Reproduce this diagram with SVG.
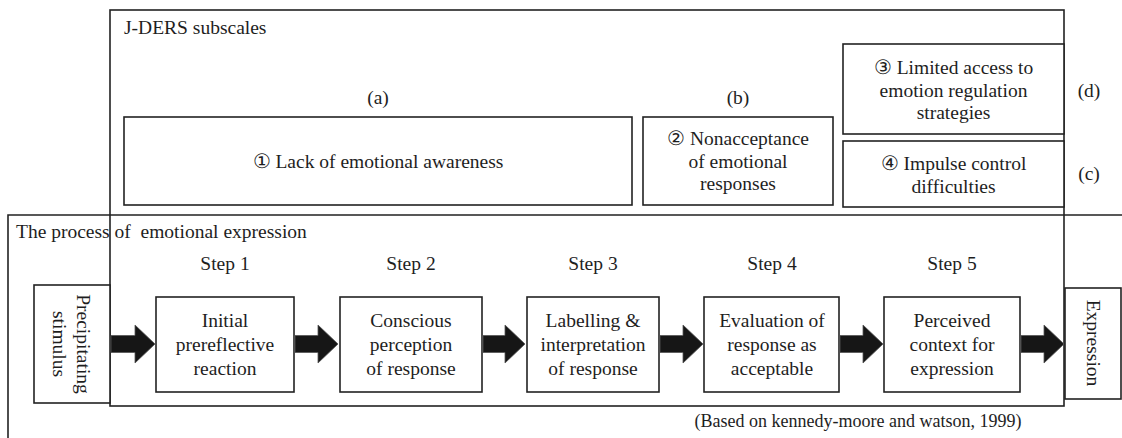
<svg xmlns="http://www.w3.org/2000/svg" width="1122" height="438" viewBox="0 0 1122 438">
<style>
text{font-family:"Liberation Serif","Times New Roman",serif;font-size:19.5px;fill:#1e1e1e;}
.c{text-anchor:middle;}
.small{font-size:18px;}
.box{fill:#fff;stroke:#222;stroke-width:1.6;}
.frame{fill:none;stroke:#222;stroke-width:1.6;}
.arr{fill:#161616;stroke:#555;stroke-width:0.8;}
</style>
<rect width="1122" height="438" fill="#fff"/>

<g id="process-frame">
<path class="frame" d="M1122,215 H8 V438"/>
<text x="16" y="238" style="white-space:pre">The process of  emotional expression</text>
</g>

<g id="jders">
<rect class="frame" x="110" y="10" width="954" height="396"/>
<text x="124" y="34">J-DERS subscales</text>
</g>

<g id="sub-a">
<text class="c" x="378" y="104">(a)</text>
<rect class="box" x="124" y="117" width="508" height="88"/>
<text class="c" x="378" y="168">① Lack of emotional awareness</text>
</g>

<g id="sub-b">
<text class="c" x="738" y="104">(b)</text>
<rect class="box" x="643" y="117" width="190" height="88"/>
<text class="c" x="738" y="145">② Nonacceptance</text>
<text class="c" x="738" y="168">of emotional</text>
<text class="c" x="738" y="190">responses</text>
</g>

<g id="sub-d">
<rect class="box" x="843" y="44" width="221" height="90"/>
<text class="c" x="953.5" y="74">③ Limited access to</text>
<text class="c" x="953.5" y="96.5">emotion regulation</text>
<text class="c" x="953.5" y="119">strategies</text>
<text class="c" x="1089" y="97">(d)</text>
</g>

<g id="sub-c">
<rect class="box" x="843" y="141" width="221" height="66"/>
<text class="c" x="953.5" y="170">④ Impulse control</text>
<text class="c" x="953.5" y="193">difficulties</text>
<text class="c" x="1089" y="180">(c)</text>
</g>

<g id="stimulus">
<rect class="box" x="34" y="285" width="76" height="118"/>
<g transform="translate(71,344) rotate(90)">
<text class="c" x="0" y="-5.5">Precipitating</text>
<text class="c" x="0" y="18.5">stimulus</text>
</g>
</g>

<g id="step1">
<text class="c" x="225" y="270">Step 1</text>
<rect class="box" x="156" y="297" width="138" height="95"/>
<text class="c" x="225" y="327">Initial</text>
<text class="c" x="225" y="351">prereflective</text>
<text class="c" x="225" y="375">reaction</text>
</g>

<g id="step2">
<text class="c" x="411" y="270">Step 2</text>
<rect class="box" x="340" y="297" width="142" height="95"/>
<text class="c" x="411" y="327">Conscious</text>
<text class="c" x="411" y="351">perception</text>
<text class="c" x="411" y="375">of response</text>
</g>

<g id="step3">
<text class="c" x="593" y="270">Step 3</text>
<rect class="box" x="527" y="297" width="132" height="95"/>
<text class="c" x="593" y="327">Labelling &amp;</text>
<text class="c" x="593" y="351">interpretation</text>
<text class="c" x="593" y="375">of response</text>
</g>

<g id="step4">
<text class="c" x="772" y="270">Step 4</text>
<rect class="box" x="704" y="297" width="135" height="95"/>
<text class="c" x="772" y="327">Evaluation of</text>
<text class="c" x="772" y="351">response as</text>
<text class="c" x="772" y="375">acceptable</text>
</g>

<g id="step5">
<text class="c" x="952" y="270">Step 5</text>
<rect class="box" x="884" y="297" width="136" height="95"/>
<text class="c" x="952" y="327">Perceived</text>
<text class="c" x="952" y="351">context for</text>
<text class="c" x="952" y="375">expression</text>
</g>

<g id="expression">
<rect class="box" x="1065" y="288" width="56" height="111"/>
<g transform="translate(1093,343) rotate(90)">
<text class="c" x="0" y="6.5">Expression</text>
</g>
</g>

<g id="connectors">
<path class="arr" d="M111,335.5 H135 V325 L155,344 L135,363 V352.5 H111 Z"/>
<path class="arr" d="M295,335.5 H318 V325 L338,344 L318,363 V352.5 H295 Z"/>
<path class="arr" d="M483,335.5 H505 V325 L525,344 L505,363 V352.5 H483 Z"/>
<path class="arr" d="M660,335.5 H683 V325 L703,344 L683,363 V352.5 H660 Z"/>
<path class="arr" d="M840,335.5 H863 V325 L883,344 L863,363 V352.5 H840 Z"/>
<path class="arr" d="M1021,335.5 H1044 V325 L1064,344 L1044,363 V352.5 H1021 Z"/>
</g>

<text class="c small" x="858" y="427">(Based on kennedy-moore and watson, 1999)</text>
</svg>
